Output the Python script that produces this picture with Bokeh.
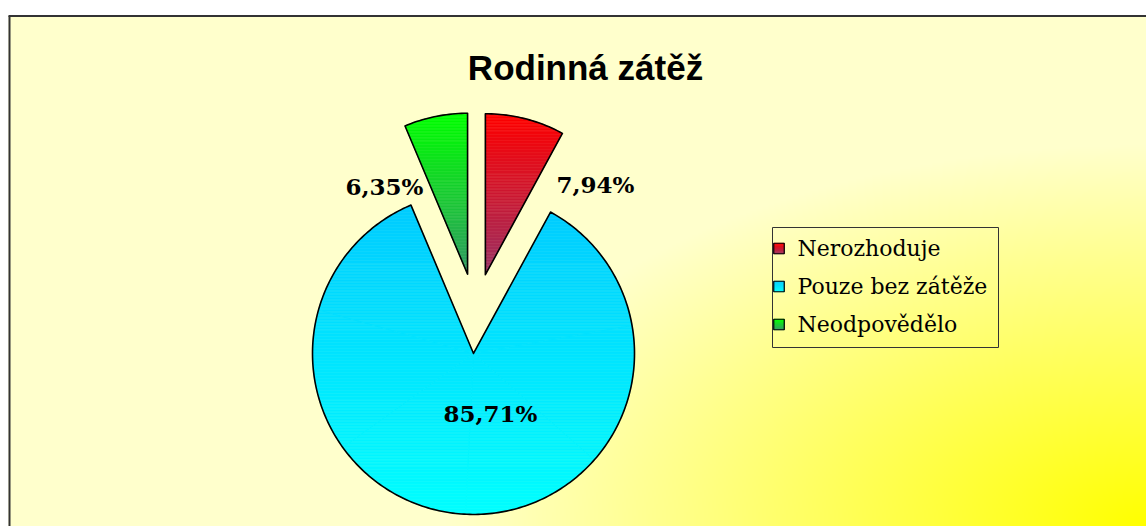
import numpy as np
from bokeh.plotting import figure
from bokeh.models import Range1d
from bokeh.embed import file_html
from bokeh.resources import INLINE
from bokeh.core.properties import value

# ---------------- data ----------------
title_text = "Rodinná zátěž"
categories = ["Nerozhoduje", "Pouze bez zátěže", "Neodpovědělo"]
shares = [7.94, 85.71, 6.35]
grad_top = ["#FF0000", "#00CCFF", "#00FF00"]
grad_bottom = ["#993366", "#00FFFF", "#339966"]

# ---------------- layout ----------------
W, H = 1146, 526
FRAME_L, FRAME_T = 8, 15
PIE_CX, PIE_CY = 475, 313
PIE_R = 161
EXPLODE = 40
label_pos = [(595, 184), (490, 413), (384, 186)]
LEG_L, LEG_R, LEG_T, LEG_B = 772, 998, 227, 347
leg_rows = [248, 286, 324]
SERIF = value("DejaVu Serif")

p = figure(width=W, height=H, x_range=Range1d(0, W),
           y_range=Range1d(-H, 0), output_backend="svg",
           toolbar_location=None, min_border=0,
           x_axis_location=None, y_axis_location=None)
p.grid.visible = False
p.outline_line_color = None
p.background_fill_color = "white"
p.border_fill_color = "white"

# ---------------- background gradient ----------------
bw = W - FRAME_L
bh = H - FRAME_T
nx, ny = bw // 2, bh // 2
px = FRAME_L + (np.arange(nx) + 0.5) * bw / nx
py = H - (np.arange(ny) + 0.5) * bh / ny
PX, PY = np.meshgrid(px, py)
t = np.sqrt(((1146 - PX) / 700.0) ** 2 + ((526 - PY) / 380.0) ** 2)
t = np.clip(t, 0, 1)
img = np.empty((ny, nx), dtype=np.uint32)
view = img.view(dtype=np.uint8).reshape((ny, nx, 4))
view[:, :, 0] = 255
view[:, :, 1] = 255
view[:, :, 2] = (204 * t).astype(np.uint8)
view[:, :, 3] = 255
p.image_rgba(image=[img], x=FRAME_L, y=-H, dw=bw, dh=bh)

# frame (left & top edges visible)
p.multi_line(xs=[[FRAME_L + 1, FRAME_L + 1], [FRAME_L, W]],
             ys=[[-H, -(FRAME_T + 0.5)], [-(FRAME_T + 0.5), -(FRAME_T + 0.5)]],
             line_color="#333333", line_width=2)


# ---------------- helpers ----------------
def hex2rgb(h):
    h = h.lstrip("#")
    return np.array([int(h[i:i + 2], 16) for i in (0, 2, 4)], dtype=float)


def mix(c0, c1, f):
    c = hex2rgb(c0) * (1 - f) + hex2rgb(c1) * f
    return "#%02x%02x%02x" % tuple(int(round(v)) for v in c)


def clip(poly, y, keep_above):
    out = []
    n = len(poly)
    for i in range(n):
        P = poly[i]
        Q = poly[(i + 1) % n]
        inP = P[1] >= y if keep_above else P[1] <= y
        inQ = Q[1] >= y if keep_above else Q[1] <= y
        if inP:
            out.append(P)
        if inP != inQ:
            tt = (y - P[1]) / (Q[1] - P[1])
            out.append((P[0] + tt * (Q[0] - P[0]), y))
    return out


def gradient_fill(polys, ymin, ymax, ctop, cbot, step=1.5):
    """polys: list of convex polygons (lists of (x, y)) sharing one gradient."""
    nb = max(2, int((ymax - ymin) / step) + 1)
    edges = np.linspace(ymin, ymax, nb + 1)
    sx, sy, cols = [], [], []
    for poly in polys:
        for b in range(nb):
            lo, hi = edges[b], edges[b + 1]
            part = clip(poly, lo, True)
            if len(part) < 3:
                continue
            part = clip(part, hi, False)
            if len(part) < 3:
                continue
            f = 1 - ((lo + hi) / 2 - ymin) / (ymax - ymin)
            sx.append([q[0] for q in part])
            sy.append([q[1] for q in part])
            cols.append(mix(ctop, cbot, f))
    p.patches(xs=sx, ys=sy, fill_color=cols, line_color=cols, line_width=0.6)


# ---------------- pie ----------------
total = float(sum(shares))
acc = 0.0
outline_x, outline_y = [], []
for k, v in enumerate(shares):
    a0 = 2 * np.pi * acc / total
    a1 = 2 * np.pi * (acc + v) / total
    acc += v
    mid = (a0 + a1) / 2
    ox = PIE_CX + EXPLODE * np.sin(mid)
    oy = -PIE_CY + EXPLODE * np.cos(mid)
    th = np.linspace(a0, a1, max(8, int(np.degrees(a1 - a0))))
    xs = [ox] + list(ox + PIE_R * np.sin(th))
    ys = [oy] + list(oy + PIE_R * np.cos(th))
    # split into convex sub-wedges (<= 60 deg)
    nchunks = int(np.ceil(np.degrees(a1 - a0) / 60.0))
    bounds = np.linspace(a0, a1, nchunks + 1)
    polys = []
    for c in range(nchunks):
        tc = np.linspace(bounds[c], bounds[c + 1], 30)
        polys.append([(ox, oy)] + [(ox + PIE_R * np.sin(a), oy + PIE_R * np.cos(a)) for a in tc])
    gradient_fill(polys, min(ys), max(ys), grad_top[k], grad_bottom[k])
    outline_x.append(xs + [xs[0]])
    outline_y.append(ys + [ys[0]])

p.patches(xs=outline_x, ys=outline_y, fill_color=None, line_color="black",
          line_width=1.6, line_join="round")

# percentage labels
labels = [("%.2f" % v).replace(".", ",") + "%" for v in shares]
p.text(x=[q[0] for q in label_pos], y=[-q[1] for q in label_pos], text=labels,
       text_font=SERIF, text_font_style="bold", text_font_size="23px",
       text_align="center", text_baseline="middle", text_color="black")

# title
p.text(x=[585], y=[-67], text=[title_text], text_font=value("Liberation Sans"),
       text_font_style="bold", text_font_size="35px", text_align="center",
       text_baseline="alphabetic", text_color="black")

# ---------------- legend ----------------
p.quad(left=[LEG_L], right=[LEG_R], top=[-LEG_T], bottom=[-LEG_B],
       fill_color=None, line_color="#333333", line_width=1)
sq = 10.5
sq_x = 778.5
box_x, box_y = [], []
for k, row in enumerate(leg_rows):
    xs = [sq_x - sq / 2, sq_x + sq / 2, sq_x + sq / 2, sq_x - sq / 2]
    ys = [-row + sq / 2, -row + sq / 2, -row - sq / 2, -row - sq / 2]
    gradient_fill([list(zip(xs, ys))], min(ys), max(ys), grad_top[k], grad_bottom[k], step=1.0)
    box_x.append(xs)
    box_y.append(ys)
p.patches(xs=box_x, ys=box_y, fill_color=None, line_color="black", line_width=1.2)
p.text(x=[797] * len(categories), y=[-r for r in leg_rows], text=categories,
       text_font=SERIF, text_font_size="22px", text_align="left",
       text_baseline="middle", text_color="black")

open("out.html", "w").write(file_html(p, INLINE))
